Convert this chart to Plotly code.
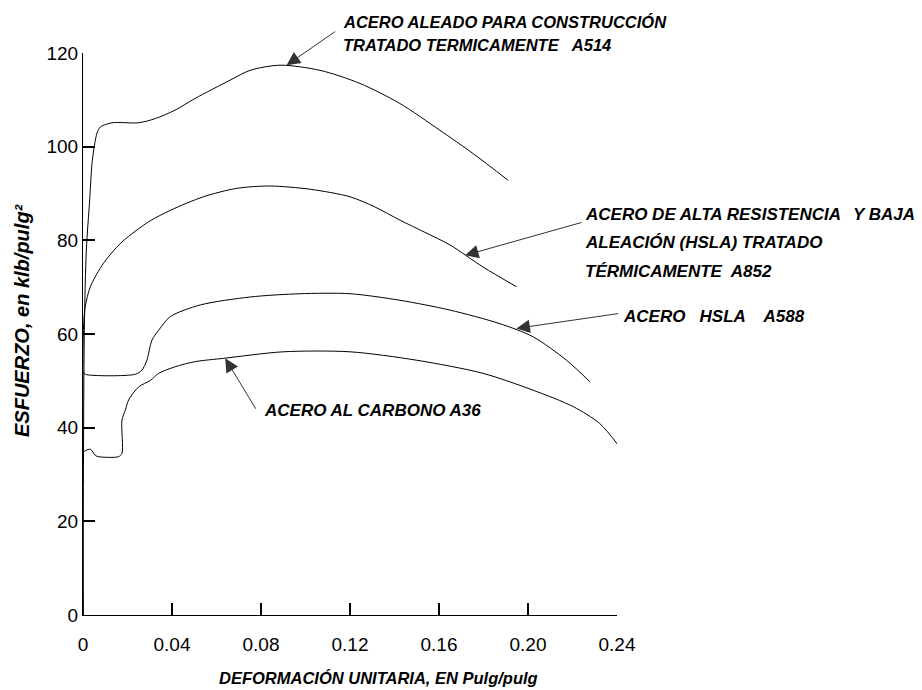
import plotly.graph_objects as go

# ---------------- data ----------------
a514_x = [0, 0.0006, 0.0015, 0.003, 0.0042, 0.0063, 0.0078, 0.013, 0.025, 0.0325, 0.0414,
          0.0504, 0.0661, 0.0751, 0.0886, 0.1065, 0.1245, 0.1425, 0.1604, 0.1754, 0.1911]
a514_y = [0, 60.8, 77.9, 88.6, 97.1, 102.9, 104.2, 105.1, 105.1, 106.0, 107.8,
          110.3, 114.2, 116.3, 117.4, 116.3, 113.5, 109.2, 103.5, 98.5, 92.8]

a852_x = [0, 0.0002, 0.001, 0.0033, 0.0092, 0.0167, 0.0242, 0.0303, 0.0392, 0.0541, 0.0691,
          0.0841, 0.1022, 0.12, 0.1313, 0.1425, 0.1537, 0.165, 0.1798, 0.1948]
a852_y = [0, 61.0, 65.8, 70.1, 75.1, 79.3, 82.2, 84.2, 86.4, 89.3, 91.1,
          91.6, 90.9, 89.3, 87.1, 84.3, 81.7, 79.0, 74.3, 70.1]

a588_x = [0, 0, 0.001, 0.0235, 0.0265, 0.0287, 0.031, 0.034, 0.0392, 0.0527, 0.0751,
          0.0976, 0.12, 0.1425, 0.165, 0.1874, 0.2023, 0.2173, 0.2278]
a588_y = [0, 51.9, 51.4, 51.4, 52.3, 54.4, 58.7, 60.8, 63.7, 66.2, 67.9,
          68.6, 68.6, 67.2, 65.1, 62.2, 59.4, 54.4, 49.8]

a36_x = [0, 0, 0.0003, 0.0033, 0.0055, 0.007, 0.016, 0.0175, 0.0175, 0.019, 0.0205, 0.025,
         0.0303, 0.034, 0.0414, 0.0504, 0.0631, 0.09, 0.12, 0.15, 0.1798, 0.2023, 0.2203,
         0.2322, 0.2405]
a36_y = [0, 34.1, 34.8, 35.4, 34.1, 33.8, 33.8, 34.5, 41.6, 43.7, 45.9, 48.7,
         50.1, 51.6, 53.0, 54.1, 54.8, 56.2, 56.2, 54.4, 51.6, 48.0, 44.5,
         40.9, 36.3]

x_ticks = [0, 0.04, 0.08, 0.12, 0.16, 0.20, 0.24]
x_tick_text = ["0", "0.04", "0.08", "0.12", "0.16", "0.20", "0.24"]
y_ticks = [0, 20, 40, 60, 80, 100, 120]

# curve labels, one entry per text line
label_lines = [
    "ACERO ALEADO PARA CONSTRUCCIÓN",
    "TRATADO TERMICAMENTE   A514",
    "ACERO DE ALTA RESISTENCIA",
    "Y BAJA",
    "ALEACIÓN (HSLA) TRATADO",
    "TÉRMICAMENTE  A852",
    "ACERO   HSLA    A588",
    "ACERO AL CARBONO A36",
]
# arrow heads (on the curves) and tails, in data units
arrow_head_x = [0.0915, 0.1717, 0.1948, 0.0639]
arrow_head_y = [117.4, 76.8, 61.2, 54.8]
arrow_tail_x = [0.114, 0.2247, 0.2412, 0.0781]
arrow_tail_y = [124.8, 83.9, 64.4, 43.7]

x_title = "DEFORMACIÓN UNITARIA, EN Pulg/pulg"
y_title = "ESFUERZO, en klb/pulg²"

# placement of each label line (paper coords, anchor, font size)
line_pos = [
    (0.483, 1.055, "left", 16.5),
    (0.483, 1.014, "left", 16.5),
    (0.936, 0.713, "left", 17),
    (1.562, 0.713, "right", 17),
    (0.936, 0.663, "left", 17),
    (0.936, 0.612, "left", 17),
    (1.008, 0.532, "left", 17),
    (0.336, 0.363, "left", 17),
]

FONT = "Liberation Sans, Arial, sans-serif"

fig = go.Figure()
for xs, ys in [(a514_x, a514_y), (a852_x, a852_y), (a588_x, a588_y), (a36_x, a36_y)]:
    fig.add_trace(go.Scatter(x=xs, y=ys, mode="lines",
                             line=dict(color="black", width=1, shape="spline", smoothing=0.8),
                             showlegend=False, hoverinfo="skip", cliponaxis=False))

for i in range(len(arrow_head_x)):
    fig.add_annotation(x=arrow_head_x[i], y=arrow_head_y[i], ax=arrow_tail_x[i], ay=arrow_tail_y[i],
                       xref="x", yref="y", axref="x", ayref="y",
                       text="", showarrow=True, arrowhead=2, arrowsize=2.7, arrowwidth=1,
                       arrowcolor="#333333", standoff=0)

for text, (px, py, anc, fs) in zip(label_lines, line_pos):
    fig.add_annotation(x=px, y=py, xref="paper", yref="paper", text="<b><i>" + text + "</i></b>",
                       showarrow=False, xanchor=anc, yanchor="middle",
                       font=dict(family=FONT, size=fs, color="black"))

fig.add_annotation(x=0.554, y=-0.112, xref="paper", yref="paper",
                   text="<b><i>" + x_title + "</i></b>", showarrow=False,
                   xanchor="center", yanchor="middle", font=dict(family=FONT, size=16.5))
fig.add_annotation(x=-0.1142, y=0.525, xref="paper", yref="paper",
                   text="<b><i>" + y_title + "</i></b>", showarrow=False, textangle=-90,
                   xanchor="center", yanchor="middle", font=dict(family=FONT, size=20))

# the page body adds an 8px offset, so the figure is 8px smaller than the window
fig.update_layout(
    width=914, height=682,
    margin=dict(l=75, r=305, t=45, b=75),
    paper_bgcolor="white", plot_bgcolor="white",
    font=dict(family=FONT, size=19, color="black"),
    xaxis=dict(range=[0, 0.24], tickvals=x_ticks, ticktext=x_tick_text, automargin=False,
               showgrid=False, zeroline=False, showline=True, linecolor="black", linewidth=1,
               ticks="inside", ticklen=12, tickwidth=2, tickcolor="black",
               ticklabelstandoff=12),
    yaxis=dict(range=[0, 120], tickvals=y_ticks, automargin=False,
               showgrid=False, zeroline=False, showline=True, linecolor="black", linewidth=1,
               ticks="inside", ticklen=12, tickwidth=2, tickcolor="black"),
)

fig.write_html("out.html")
